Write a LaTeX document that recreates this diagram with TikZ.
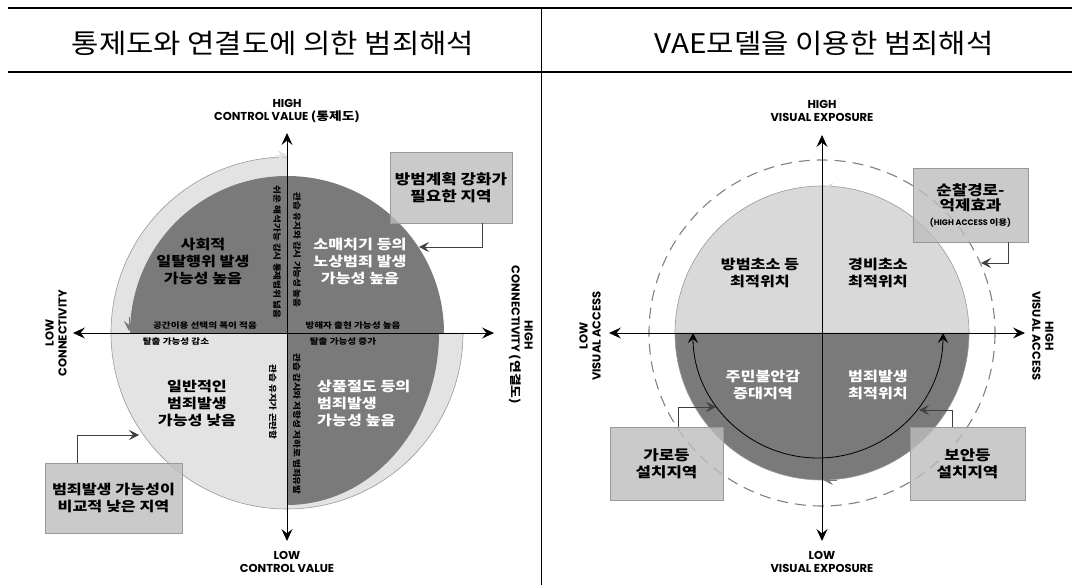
\documentclass[tikz,border=0pt]{standalone}
\usepackage{fontspec}
\setmainfont{Noto Sans CJK KR}
\newfontfamily\lat{Poppins}
\newfontfamily\krw{Noto Sans CJK KR}[FakeStretch=1.2]
\newfontfamily\krt{Noto Sans CJK KR}[FakeStretch=1.1]
\usetikzlibrary{arrows.meta}
\definecolor{lite}{gray}{0.89}
\definecolor{lite2}{gray}{0.85}
\definecolor{darkg}{gray}{0.48}
\definecolor{boxg}{gray}{0.74}
\definecolor{boxb}{gray}{0.6}
\definecolor{rim}{gray}{0.6}
\definecolor{dashg}{gray}{0.5}
\tikzset{
  barb/.style={-{Stealth[length=10pt,width=10pt,inset=4pt]}},
  axisline/.style={line width=0.9pt,{Stealth[length=12pt,width=11pt,inset=4.5pt]}-{Stealth[length=12pt,width=11pt,inset=4.5pt]}},
  lab/.style={font=\lat\bfseries\fontsize{11.5}{13}\selectfont,align=center,inner sep=0pt},
  quad/.style={font=\krw\bfseries\fontsize{13.5}{17}\selectfont,align=center,inner sep=0pt},
  quadw/.style={quad,text=white},
  tiny/.style={font=\krw\bfseries\fontsize{8}{9}\selectfont,inner sep=0pt},
  callbox/.style={draw=boxb,fill=boxg,fill opacity=0.8,text opacity=1,line width=0.8pt,
    font=\krw\bfseries\fontsize{14}{17}\selectfont,align=center,inner sep=0pt},
  callout/.style={barb,line width=0.8pt,draw=black!75},
  titletext/.style={font=\krt\fontsize{27}{30}\selectfont,inner sep=0pt},
  rule/.style={line width=2.6pt},
}
\begin{document}
\begin{tikzpicture}[x=1pt,y=-1pt]
\useasboundingbox (0,0) rectangle (1072,585);

% ---------- header ----------
\coordinate (r1a) at (8,8);   \coordinate (r1b) at (1072,8);
\coordinate (r2a) at (8,72);  \coordinate (r2b) at (1072,72);
\coordinate (dv1) at (541,8); \coordinate (dv2) at (541,585);
\draw[line width=0.6pt] (dv1) -- (dv2);
\draw[rule] (r1a) -- (r1b);
\draw[rule] (r2a) -- (r2b);
\node[titletext] (t1) at (273,43) {통제도와 연결도에 의한 범죄해석};
\node[titletext] (t2) at (824,43) {VAE모델을 이용한 범죄해석};

% ---------- left diagram ----------
\coordinate (C) at (287,333);
\fill[lite] (C) -- ([shift={(C)}]-90:176) arc[start angle=-90,end angle=-360,radius=176] -- cycle;
\draw[rim,line width=0.6pt] ([shift={(C)}]-90:176) arc[start angle=-90,end angle=-360,radius=176];
\fill[darkg] ([shift={(C)}]180:157) arc[start angle=180,end angle=360,radius=157]
  -- ([shift={(C)}]0:152) arc[start angle=0,end angle=90,x radius=152,y radius=172] -- (C) -- cycle;

\coordinate (Lt) at (287,133); \coordinate (Lb) at (287,541);
\coordinate (Ll) at (73,333);  \coordinate (Lr) at (494,333);
\draw[axisline] (Lb) -- (Lt);
\draw[axisline] (Ll) -- (Lr);

\node[lab] (lh) at (287,111) {HIGH\\CONTROL VALUE {\krw(통제도)}};
\node[lab] (ll) at (287,562) {LOW\\CONTROL VALUE};
\node[lab,rotate=90] (lc) at (56,333) {LOW\\CONNECTIVITY};
\node[lab,rotate=-90] (hc) at (521,335) {HIGH\\CONNECTIVITY {\krw(연결도)}};

\coordinate (ah1a) at (275,155); \coordinate (ah1b) at (287,155);
\draw[barb,line width=0.6pt,draw=lite] (ah1a) -- (ah1b);
\coordinate (ah2a) at (129,317); \coordinate (ah2b) at (129,331);
\draw[barb,line width=0.6pt,draw=darkg] (ah2a) -- (ah2b);
\coordinate (ah3a) at (457,351); \coordinate (ah3b) at (457,336);
\draw[barb,line width=0.6pt,draw=lite] (ah3a) -- (ah3b);
\coordinate (ah4a) at (302,497); \coordinate (ah4b) at (288,497);
\draw[barb,line width=0.6pt,draw=darkg] (ah4a) -- (ah4b);

\node[quad] (q1) at (203,261) {사회적\\일탈행위 발생\\가능성 높음};
\node[quadw] (q2) at (360,261) {소매치기 등의\\노상범죄 발생\\가능성 높음};
\node[quad] (q3) at (197,403) {일반적인\\범죄발생\\가능성 낮음};
\node[quadw,align=left,anchor=west] (q4) at (317,403) {상품절도 등의\\범죄발생\\가능성 높음};

\node[tiny] (s1) at (205,326) {공간이용 선택의 폭이 적음};
\node[tiny] (s2) at (176,342) {탈출 가능성 감소};
\node[tiny] (s3) at (353,326) {방해자 출현 가능성 높음};
\node[tiny] (s4) at (343,342) {탈출 가능성 증가};
\node[tiny,rotate=-90] (v1) at (277,252) {쉬운 해석가능 감시 통제범위 넓음};
\node[tiny,rotate=-90] (v2) at (297,250) {관습 유지와 감시 가능성 높음};
\node[tiny,rotate=-90] (v3) at (273,402) {관습 유지가 곤란함};
\node[tiny,rotate=-90] (v4) at (297,424) {관습 감시와 저항성 저하로 범죄유발};

\node[callbox,minimum width=122pt,minimum height=71pt] (b1) at (451,187.5) {방범계획 강화가\\필요한 지역};
\coordinate (a1) at (419,247);
\draw[callout] ([xshift=31pt]b1.south) |- (a1);
\node[callbox,minimum width=137pt,minimum height=70pt,font=\krw\bfseries\fontsize{13.5}{17}\selectfont] (b2) at (113.5,498) {범죄발생 가능성이\\비교적 낮은 지역};
\coordinate (a2) at (139,435);
\draw[callout] ([xshift=-36.5pt]b2.north) |- (a2);

% ---------- right diagram ----------
\coordinate (D) at (822,333);
\fill[lite2] ([shift={(D)}]180:147) arc[start angle=180,end angle=360,radius=147] -- cycle;
\fill[darkg] ([shift={(D)}]0:147) arc[start angle=0,end angle=180,radius=147] -- cycle;
\draw[rim,line width=0.6pt] (D) circle (147);
\draw[dashg,line width=1.1pt,dash pattern=on 11pt off 7pt] (D) circle (173);

\coordinate (E) at (818,333);
\draw[line width=0.8pt,{Stealth[length=10pt,width=10pt,inset=4pt]}-{Stealth[length=10pt,width=10pt,inset=4pt]}]
  ([shift={(E)}]180:125) arc[start angle=180,end angle=0,radius=125];

\coordinate (Rt) at (822,135); \coordinate (Rb) at (822,541);
\coordinate (Rl) at (609,333); \coordinate (Rr) at (1025,333);
\draw[axisline] (Rb) -- (Rt);
\draw[axisline] (Rl) -- (Rr);

\coordinate (ah5a) at (837,188); \coordinate (ah5b) at (823,188);
\draw[barb,line width=0.6pt,draw=lite2] (ah5a) -- (ah5b);
\coordinate (ah6a) at (837,480); \coordinate (ah6b) at (823,480);
\draw[barb,line width=0.6pt,draw=darkg] (ah6a) -- (ah6b);

\node[lab] (rh) at (822,111) {HIGH\\VISUAL EXPOSURE};
\node[lab] (rl) at (822,562) {LOW\\VISUAL EXPOSURE};
\node[lab,rotate=90] (la) at (590,336) {LOW\\VISUAL ACCESS};
\node[lab,rotate=-90] (ha) at (1043,336) {HIGH\\VISUAL ACCESS};

\node[quad] (p1) at (760,273) {방범초소 등\\최적위치};
\node[quad] (p2) at (878,273) {경비초소\\최적위치};
\node[quadw] (p3) at (763,385) {주민불안감\\증대지역};
\node[quadw] (p4) at (878,385) {범죄발생\\최적위치};

\node[callbox,minimum width=115pt,minimum height=74pt,font=\krw\bfseries\fontsize{14}{15}\selectfont] (b3) at (970.5,205)
  {순찰경로-\\억제효과\\{\lat\bfseries\fontsize{8}{10}\selectfont(HIGH ACCESS {\krw 이용})}};
\coordinate (a3) at (981,263);
\draw[callout] ([xshift=37.5pt]b3.south) |- (a3);
\node[callbox,minimum width=113pt,minimum height=73pt] (b4) at (666.5,463.5) {가로등\\설치지역};
\coordinate (a4) at (716,407);
\draw[callout] ([xshift=11.5pt]b4.north) |- (a4);
\node[callbox,minimum width=115pt,minimum height=73pt] (b5) at (967.5,463.5) {보안등\\설치지역};
\coordinate (a5) at (919,410);
\draw[callout] ([xshift=-15.5pt]b5.north) |- (a5);
\end{tikzpicture}
\end{document}
